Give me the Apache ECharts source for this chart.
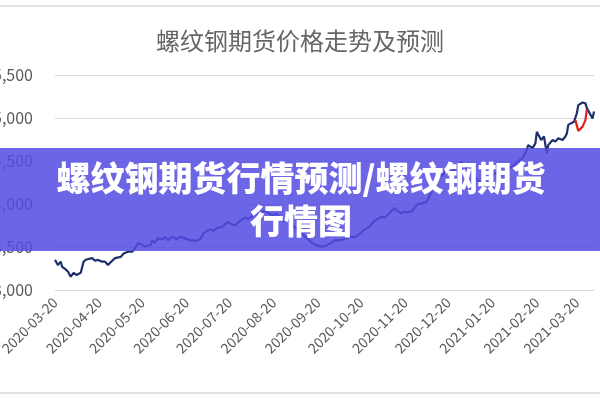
<!DOCTYPE html>
<html>
<head>
<meta charset="utf-8">
<script src="https://cdn.jsdelivr.net/npm/echarts@6/dist/echarts.min.js"></script>
<style>
html,body{margin:0;padding:0;background:#fff;}
#chart{width:600px;height:400px;}
</style>
</head>
<body>
<div id="chart"></div>
<script>
// ---- data ----
const chartTitle = '螺纹钢期货价格走势及预测';
const bannerText = '螺纹钢期货行情预测/螺纹钢期货\n行情图';

const actualDates = [
  '2020-03-20','2020-03-22','2020-03-24','2020-03-25','2020-03-27','2020-03-29','2020-03-31',
  '2020-04-02','2020-04-04','2020-04-07','2020-04-09','2020-04-11','2020-04-15','2020-04-17','2020-04-19','2020-04-22','2020-04-24','2020-04-26','2020-04-29',
  '2020-05-01','2020-05-05','2020-05-07','2020-05-10','2020-05-13','2020-05-15','2020-05-17','2020-05-20','2020-05-22','2020-05-26','2020-05-27','2020-05-29','2020-05-31',
  '2020-06-03','2020-06-05','2020-06-07','2020-06-10','2020-06-13','2020-06-16','2020-06-19','2020-06-23','2020-06-25','2020-06-27','2020-06-30',
  '2020-07-02','2020-07-04','2020-07-07','2020-07-09','2020-07-11','2020-07-15','2020-07-17','2020-07-19','2020-07-22','2020-07-24','2020-07-26','2020-07-29','2020-07-31',
  '2020-08-02','2020-08-05','2020-08-08','2020-08-11','2020-08-13','2020-08-16','2020-08-19','2020-08-22','2020-08-25','2020-08-27','2020-08-30',
  '2020-09-02','2020-09-05','2020-09-08','2020-09-11','2020-09-15','2020-09-18','2020-09-22','2020-09-25','2020-09-29',
  '2020-10-02','2020-10-06','2020-10-09','2020-10-13','2020-10-16','2020-10-20','2020-10-22','2020-10-24','2020-10-27','2020-10-29','2020-10-31',
  '2020-11-03','2020-11-06','2020-11-10','2020-11-12','2020-11-14','2020-11-17','2020-11-19','2020-11-21','2020-11-25','2020-11-27','2020-11-29',
  '2020-12-02','2020-12-03','2020-12-05','2020-12-08','2020-12-10','2020-12-12','2020-12-16','2020-12-18','2020-12-20','2020-12-23','2020-12-25','2020-12-29',
  '2021-01-01','2021-01-05','2021-01-08','2021-01-12','2021-01-15','2021-01-19','2021-01-22','2021-01-26','2021-01-29',
  '2021-02-03','2021-02-06','2021-02-10','2021-02-13','2021-02-14','2021-02-17','2021-02-19','2021-02-20','2021-02-21','2021-02-23','2021-02-25','2021-02-27','2021-02-28',
  '2021-03-03','2021-03-05','2021-03-07','2021-03-10','2021-03-12','2021-03-13','2021-03-14','2021-03-16','2021-03-18','2021-03-19','2021-03-20','2021-03-21','2021-03-24','2021-03-26','2021-03-27','2021-03-29','2021-03-31',
  '2021-04-01'
];
const actualPrices = [
  3350,3290,3330,3270,3245,3215,3155,
  3200,3175,3200,3330,3355,3370,3340,3350,3330,3330,3290,3340,
  3370,3385,3425,3445,3445,3485,3545,3525,3505,3525,3575,3550,3600,
  3590,3615,3580,3620,3590,3620,3600,3575,3580,3570,3600,
  3660,3685,3705,3685,3720,3735,3765,3790,3760,3755,3785,3820,3845,
  3825,3860,3895,3885,3920,3895,3870,3885,3835,3800,3815,
  3755,3710,3665,3620,3560,3525,3505,3510,3545,
  3580,3580,3600,3620,3615,3665,3700,3715,3755,3795,3820,
  3850,3845,3910,3950,3930,3890,3910,3900,3920,3970,4000,
  4010,3990,4025,4125,4240,4315,4335,4375,4355,4375,4420,4490,
  4440,4370,4300,4245,4300,4325,4360,4335,4395,
  4435,4490,4530,4630,4685,4650,4705,4840,4820,4745,4785,4590,4685,
  4745,4725,4765,4745,4785,4820,4920,4940,4955,4975,5055,5150,5180,5170,5115,5055,4995,
  5075
];

const forecastDates = ['2021-03-19','2021-03-21','2021-03-24','2021-03-26','2021-03-27'];
const forecastPrices = [4975, 4850, 4900, 4975, 5100];

const xTickLabels = ['2020-03-20','2020-04-20','2020-05-20','2020-06-20','2020-07-20','2020-08-20',
  '2020-09-20','2020-10-20','2020-11-20','2020-12-20','2021-01-20','2021-02-20','2021-03-20'];
const xStart = '2020-03-20';
const xEnd = '2021-04-01';
const yMin = 3000, yMax = 5500, yStep = 500;

// ---- chart ----
const toTime = s => echarts.time.parse(s).getTime();
const chart = echarts.init(document.getElementById('chart'));
const font = '"Noto Sans CJK SC", "Noto Sans", sans-serif';

chart.setOption({
  animation: false,
  backgroundColor: '#ffffff',
  textStyle: { fontFamily: font },
  title: {
    text: chartTitle,
    left: 'center',
    top: 24,
    textStyle: { fontSize: 24, fontWeight: 'normal', color: '#666666', fontFamily: font }
  },
  grid: { left: 55, right: 6, top: 75, bottom: 110, containLabel: false, outerBoundsMode: 'none' },
  xAxis: {
    type: 'time',
    min: toTime(xStart),
    max: toTime(xEnd),
    axisLine: { show: false },
    axisTick: { show: false },
    splitLine: { show: false },
    axisLabel: {
      customValues: xTickLabels.map(toTime),
      formatter: '{yyyy}-{MM}-{dd}',
      rotate: 45,
      fontSize: 14,
      color: '#595959',
      margin: 10,
      hideOverlap: false
    }
  },
  yAxis: {
    type: 'value',
    min: yMin,
    max: yMax,
    interval: yStep,
    axisLine: { show: false },
    axisTick: { show: false },
    splitLine: { lineStyle: { color: '#d9d9d9', width: 1 } },
    axisLabel: {
      fontSize: 16,
      color: '#595959',
      margin: 22,
      formatter: v => v.toLocaleString('en-US')
    }
  },
  series: [
    {
      name: '实际',
      type: 'line',
      data: actualDates.map((d, i) => [d, actualPrices[i]]),
      showSymbol: false,
      lineStyle: { color: '#1f2f6e', width: 2.2 },
      itemStyle: { color: '#1f2f6e' },
      z: 2
    },
    {
      name: '预测',
      type: 'line',
      data: forecastDates.map((d, i) => [d, forecastPrices[i]]),
      showSymbol: false,
      lineStyle: { color: '#e0201c', width: 2.2 },
      itemStyle: { color: '#e0201c' },
      z: 3
    }
  ],
  graphic: [
    { type: 'line', z: 10, shape: { x1: 0, y1: 6, x2: 600, y2: 6 }, style: { stroke: '#e3e3e3', lineWidth: 2 } },
    { type: 'line', z: 10, shape: { x1: 0, y1: 393, x2: 600, y2: 393 }, style: { stroke: '#e3e3e3', lineWidth: 2 } },
    { type: 'rect', z: 100, shape: { x: 0, y: 148, width: 600, height: 103 }, style: { fill: 'rgba(84,76,226,0.86)' } },
    {
      type: 'text', z: 101,
      style: {
        text: bannerText,
        x: 301, y: 200,
        fill: '#ffffff',
        fontSize: 34,
        fontWeight: 900,
        fontFamily: font,
        lineHeight: 43,
        textAlign: 'center',
        textVerticalAlign: 'middle'
      }
    }
  ]
});
</script>
</body>
</html>
